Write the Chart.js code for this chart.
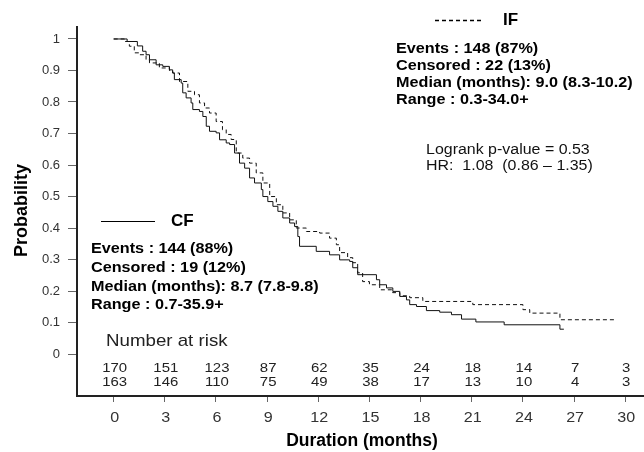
<!DOCTYPE html>
<html>
<head>
<meta charset="utf-8">
<script src="https://cdn.jsdelivr.net/npm/chart.js@4"></script>
<style>
  html, body { margin: 0; padding: 0; background: #fff; }
  #km { display: block; }
</style>
</head>
<body>
<canvas id="km" width="644" height="452"></canvas>
<script>
'use strict';

// Kaplan-Meier curves (month, survival after the drop)
const ifTimes = [0, 0.63, 0.92, 1.21, 1.51, 1.9, 2.1, 2.68, 3.27, 3.46, 3.86, 4.35, 4.74, 5.03, 5.33, 5.62, 6.01, 6.38, 6.6, 6.89, 7.19, 7.57, 7.97, 8.36, 8.75, 9.15, 9.54, 9.92, 10.32, 10.71, 11.3, 12.08, 12.66, 13.06, 13.25, 13.72, 14.02, 14.31, 14.6, 15.0, 15.6, 16.36, 16.78, 17.36, 18.13, 21.06, 24.0, 24.4, 26.17, 29.5];
const ifSurv = [1.0, 0.992, 0.977, 0.956, 0.95, 0.934, 0.924, 0.908, 0.9, 0.892, 0.865, 0.834, 0.823, 0.797, 0.781, 0.765, 0.738, 0.712, 0.697, 0.681, 0.638, 0.622, 0.606, 0.575, 0.543, 0.5, 0.474, 0.448, 0.426, 0.4, 0.389, 0.384, 0.368, 0.347, 0.322, 0.306, 0.29, 0.258, 0.23, 0.22, 0.204, 0.195, 0.185, 0.179, 0.167, 0.157, 0.141, 0.13, 0.109, 0.109];

const cfTimes = [0, 0.79, 1.39, 1.7, 1.9, 2.1, 2.49, 2.88, 3.27, 3.46, 3.56, 3.96, 4.05, 4.25, 4.54, 4.64, 5.03, 5.23, 5.43, 5.62, 6.01, 6.21, 6.6, 6.8, 7.09, 7.38, 7.68, 7.97, 8.26, 8.66, 8.75, 9.04, 9.34, 9.63, 9.92, 10.32, 10.61, 10.8, 10.9, 11.88, 12.66, 13.25, 13.84, 14.02, 14.31, 15.41, 15.6, 16.0, 16.37, 16.78, 17.17, 17.36, 17.76, 18.34, 19.12, 19.81, 20.4, 21.24, 22.9, 26.17, 26.4];
const cfSurv = [1.0, 0.992, 0.978, 0.961, 0.95, 0.934, 0.918, 0.913, 0.902, 0.892, 0.871, 0.86, 0.829, 0.813, 0.797, 0.776, 0.77, 0.754, 0.723, 0.707, 0.702, 0.68, 0.67, 0.665, 0.638, 0.606, 0.59, 0.559, 0.543, 0.522, 0.5, 0.484, 0.469, 0.453, 0.432, 0.416, 0.405, 0.373, 0.342, 0.326, 0.315, 0.299, 0.294, 0.274, 0.252, 0.236, 0.22, 0.21, 0.199, 0.183, 0.172, 0.157, 0.151, 0.138, 0.133, 0.125, 0.111, 0.102, 0.093, 0.079, 0.079];

// Number at risk table
const riskTimes = [0, 3, 6, 9, 12, 15, 18, 21, 24, 27, 30];
const riskIF = [170, 151, 123, 87, 62, 35, 24, 18, 14, 7, 3];
const riskCF = [163, 146, 110, 75, 49, 38, 17, 13, 10, 4, 3];

// Tick labels
const xTicks = [0, 3, 6, 9, 12, 15, 18, 21, 24, 27, 30];
const yTicks = [0, 0.1, 0.2, 0.3, 0.4, 0.5, 0.6, 0.7, 0.8, 0.9, 1];

// Legend / summary texts
const ifStats = ['Events : 148 (87%)', 'Censored : 22 (13%)', 'Median (months): 9.0 (8.3-10.2)', 'Range : 0.3-34.0+'];
const cfStats = ['Events : 144 (88%)', 'Censored : 19 (12%)', 'Median (months): 8.7 (7.8-9.8)', 'Range : 0.7-35.9+'];
const testText = ['Logrank p-value = 0.53', 'HR:  1.08  (0.86 \u2013 1.35)'];

const FONT = '"Liberation Sans", Arial, sans-serif';

function toPoints(times, surv) {
    return times.map(function(t, i) { return { x: t, y: surv[i] }; });
}

/**
 * Draw text with a horizontal stretch (the source picture is a bit wide)
 */
function drawText(ctx, str, x, y, font, sx, align) {
    ctx.save();
    ctx.translate(x, y);
    ctx.scale(sx, 1);
    ctx.font = font;
    ctx.textAlign = align || 'left';
    ctx.textBaseline = 'middle';
    ctx.fillText(str, 0, 0);
    ctx.restore();
}

// Annotations: legends, stats, at-risk table, x tick labels, axis titles
const annotations = {
    id: 'annotations',
    afterDraw: function(chart) {
        const ctx = chart.ctx;
        const xs = chart.scales.x;
        const ys = chart.scales.y;

        ctx.save();
        ctx.fillStyle = '#000';

        // IF legend
        ctx.strokeStyle = '#000';
        ctx.lineWidth = 1.5;
        ctx.setLineDash([4, 3]);
        ctx.beginPath();
        ctx.moveTo(435, 20.5);
        ctx.lineTo(484, 20.5);
        ctx.stroke();
        ctx.setLineDash([]);
        drawText(ctx, 'IF', 503, 20, 'bold 17px ' + FONT, 1.0);
        ifStats.forEach(function(s, i) {
            drawText(ctx, s, 396, 48.5 + i * 17, 'bold 15px ' + FONT, 1.08);
        });

        // test result
        ctx.fillStyle = '#111';
        testText.forEach(function(s, i) {
            drawText(ctx, s, 426, 150.5 + i * 15.5, '14px ' + FONT, 1.14);
        });
        ctx.fillStyle = '#000';

        // CF legend
        ctx.lineWidth = 1;
        ctx.beginPath();
        ctx.moveTo(101, 221.5);
        ctx.lineTo(155, 221.5);
        ctx.stroke();
        drawText(ctx, 'CF', 171, 221, 'bold 17px ' + FONT, 1.0);
        cfStats.forEach(function(s, i) {
            drawText(ctx, s, 91, 249 + i * 18.7, 'bold 15px ' + FONT, 1.08);
        });

        // number at risk
        ctx.fillStyle = '#222';
        drawText(ctx, 'Number at risk', 106, 341, '17px ' + FONT, 1.1);
        riskTimes.forEach(function(t, i) {
            const px = xs.getPixelForValue(t);
            drawText(ctx, String(riskIF[i]), px + 1, ys.getPixelForValue(-0.045), '13px ' + FONT, 1.15, 'center');
            drawText(ctx, String(riskCF[i]), px + 1, ys.getPixelForValue(-0.091), '13px ' + FONT, 1.15, 'center');
        });

        // x tick labels
        ctx.fillStyle = '#333';
        xTicks.forEach(function(t) {
            drawText(ctx, String(t), xs.getPixelForValue(t) + 1, 418.5, '14px ' + FONT, 1.15, 'center');
        });

        // axis titles
        ctx.fillStyle = '#000';
        drawText(ctx, 'Duration (months)', 362, 441, 'bold 17.5px ' + FONT, 1.0, 'center');
        ctx.save();
        ctx.translate(22, 210.5);
        ctx.rotate(-Math.PI / 2);
        drawText(ctx, 'Probability', 0, 0, 'bold 18px ' + FONT, 1.0, 'center');
        ctx.restore();

        ctx.restore();
    }
};

const chart = new Chart(document.getElementById('km'), {
    type: 'line',
    data: {
        datasets: [
            {
                label: 'IF',
                data: toPoints(ifTimes, ifSurv),
                borderColor: '#111',
                borderWidth: 1,
                borderDash: [4, 3],
                stepped: 'before',
                pointRadius: 0,
                fill: false
            },
            {
                label: 'CF',
                data: toPoints(cfTimes, cfSurv),
                borderColor: '#111',
                borderWidth: 1,
                stepped: 'before',
                pointRadius: 0,
                fill: false
            }
        ]
    },
    options: {
        responsive: false,
        animation: false,
        layout: {
            padding: { left: 0, right: 0, top: 27, bottom: 0 }
        },
        plugins: {
            legend: { display: false },
            tooltip: { enabled: false },
            title: { display: false }
        },
        scales: {
            x: {
                type: 'linear',
                min: -2.15,
                max: 31.1,
                afterBuildTicks: function(scale) {
                    scale.ticks = xTicks.map(function(v) { return { value: v }; });
                },
                afterFit: function(scale) {
                    scale.height = 56;
                },
                ticks: { display: false },
                grid: {
                    drawOnChartArea: false,
                    drawTicks: true,
                    tickLength: 6,
                    color: '#666',
                    lineWidth: 1
                },
                border: { display: true, color: '#222', width: 2 }
            },
            y: {
                type: 'linear',
                min: -0.133,
                max: 1.038,
                afterBuildTicks: function(scale) {
                    scale.ticks = yTicks.map(function(v) { return { value: v }; });
                },
                afterFit: function(scale) {
                    scale.width = 77;
                },
                ticks: {
                    padding: 8,
                    color: '#333',
                    font: { family: FONT, size: 13 },
                    callback: function(v) { return String(Math.round(v * 10) / 10); }
                },
                grid: {
                    drawOnChartArea: false,
                    drawTicks: true,
                    tickLength: 9,
                    color: '#666',
                    lineWidth: 1
                },
                border: { display: true, color: '#222', width: 2 }
            }
        }
    },
    plugins: [annotations]
});
</script>
</body>
</html>
